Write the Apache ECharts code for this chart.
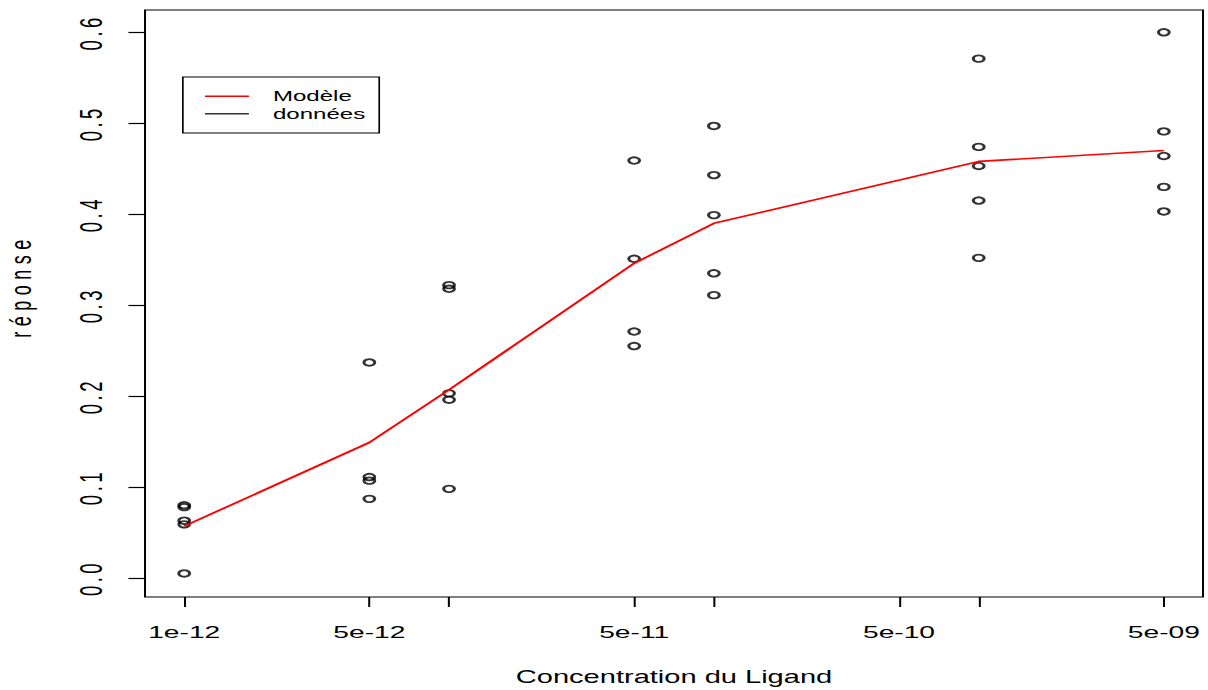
<!DOCTYPE html>
<html><head><meta charset="utf-8">
<script src="https://cdn.jsdelivr.net/npm/echarts@6/dist/echarts.min.js"></script>
<style>
html,body{margin:0;padding:0;background:#fff;overflow:hidden;}
#wrap{width:1208px;height:690px;overflow:hidden;background:#fff;}
#chart{width:728px;height:690px;transform:scaleX(1.659341);transform-origin:0 0;}
</style></head><body><div id="wrap"><div id="chart"></div></div>
<script>
// Ligand concentrations (x, log scale)
const concentrations = [1e-12, 5e-12, 1e-11, 5e-11, 1e-10, 1e-9, 5e-9];
// Fitted model response at each concentration
const modelValues = [0.057, 0.149, 0.207, 0.346, 0.390, 0.458, 0.470];
// Observed responses per concentration
const obs_1e12 = [0.080, 0.078, 0.063, 0.059, 0.005];
const obs_5e12 = [0.237, 0.111, 0.107, 0.087];
const obs_1e11 = [0.322, 0.318, 0.203, 0.196, 0.098];
const obs_5e11 = [0.459, 0.351, 0.271, 0.255];
const obs_1e10 = [0.497, 0.443, 0.399, 0.335, 0.311];
const obs_1e09 = [0.571, 0.474, 0.453, 0.415, 0.352];
const obs_5e09 = [0.600, 0.491, 0.464, 0.430, 0.403];
const observed = [obs_1e12, obs_5e12, obs_1e11, obs_5e11, obs_1e10, obs_1e09, obs_5e09];
// Axis ticks
const xTickValues = [1e-12, 5e-12, 1e-11, 5e-11, 1e-10, 5e-10, 1e-9, 5e-9];
const xLabelValues = [1e-12, 5e-12, 5e-11, 5e-10, 5e-9];
const xLabelTexts = ['1e-12', '5e-12', '5e-11', '5e-10', '5e-09'];
const yTickValues = [0, 0.1, 0.2, 0.3, 0.4, 0.5, 0.6];

const FONT = '"Liberation Sans", Arial, Helvetica, sans-serif';
const lg = v => Math.log10(v);

const modelData = concentrations.map((c, i) => [lg(c), modelValues[i]]);
const obsData = [];
concentrations.forEach((c, i) => observed[i].forEach(v => obsData.push([lg(c), v])));

const chart = echarts.init(document.getElementById('chart'), null, {renderer: 'svg'});
chart.setOption({
  animation: false,
  backgroundColor: '#fff',
  grid: {left: 87.4, right: 3, top: 10, bottom: 93, show: true, borderColor: '#000', borderWidth: 1.2,
         backgroundColor: 'transparent', containLabel: false, outerBoundsMode: 'none'},
  legend: {
    orient: 'vertical', left: 110.2, top: 77, selectedMode: false,
    padding: [10.4, 8.4, 10.4, 13.3], itemGap: 0,
    borderColor: '#000', borderWidth: 1, backgroundColor: '#fff',
    icon: 'rect', itemWidth: 26.5, itemHeight: 1.6,
    textStyle: {fontFamily: FONT, fontSize: 14.5, color: '#000', lineHeight: 17.6, padding: [0, 0, 0, 9.5]},
    data: [
      {name: 'Modèle', icon: 'rect', itemStyle: {color: '#ff0000', borderWidth: 0}},
      {name: 'données', icon: 'rect', itemStyle: {color: '#000', borderWidth: 0}}
    ]
  },
  xAxis: {
    type: 'value', min: -12.147959, max: -8.153071,
    axisLine: {show: false, onZero: false},
    splitLine: {show: false},
    axisTick: {show: true, inside: false, length: 10, lineStyle: {color: '#000', width: 1.2},
               customValues: xTickValues.map(lg)},
    axisLabel: {customValues: xLabelValues.map(lg), fontFamily: FONT, fontSize: 17, color: '#000', margin: 27,
      formatter: v => {
        let best = 0, bd = Infinity;
        xLabelValues.forEach((x, i) => { const d = Math.abs(lg(x) - v); if (d < bd) { bd = d; best = i; } });
        return xLabelTexts[best];
      }},
    name: 'Concentration du Ligand', nameLocation: 'middle', nameGap: 71,
    nameTextStyle: {fontFamily: FONT, fontSize: 17.5, color: '#000'}
  },
  yAxis: {
    type: 'value', min: -0.0209, max: 0.6245,
    axisLine: {show: false, onZero: false},
    splitLine: {show: false},
    axisTick: {show: true, inside: false, length: 10, lineStyle: {color: '#000', width: 1.2},
               customValues: yTickValues},
    axisLabel: {customValues: yTickValues, rotate: 90, fontFamily: FONT, fontSize: 18.5, color: '#000', margin: 23,
      formatter: v => v.toFixed(1)},
    name: 'réponse', nameLocation: 'middle', nameGap: 66,
    nameTextStyle: {fontFamily: FONT, fontSize: 18, color: '#000', padding: [0, 0, 0, 35]}
  },
  series: [
    {name: 'Modèle', type: 'line', data: modelData, showSymbol: false, symbol: 'none',
     color: '#ff0000', lineStyle: {color: '#ff0000', width: 1.7}, z: 3},
    {name: 'données', type: 'scatter', data: obsData, symbol: 'circle', symbolSize: 6.5,
     itemStyle: {color: 'rgba(0,0,0,0)', borderColor: '#000', borderWidth: 1.8}, z: 2}
  ]
});

// R's rotated text is rendered letter-spaced; mimic that styling on the rotated labels.
function spaceRotated() {
  document.querySelectorAll('#chart svg text').forEach(t => {
    const s = t.textContent;
    if (s === 'réponse') t.style.letterSpacing = '5.5px';
    else if (/^0\.\d$/.test(s)) t.style.letterSpacing = '3.5px';
  });
}
spaceRotated();
chart.on('finished', spaceRotated);
requestAnimationFrame(spaceRotated);
</script></body></html>
